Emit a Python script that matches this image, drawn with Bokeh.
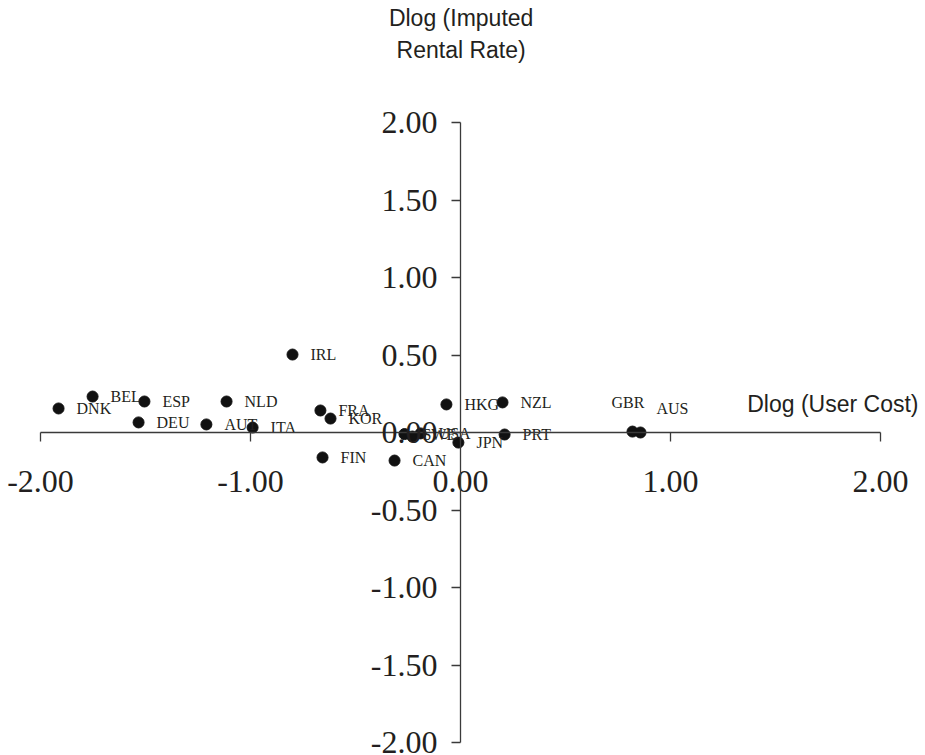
from bokeh.plotting import figure
from bokeh.models import ColumnDataSource, FixedTicker, NumeralTickFormatter, Label
from bokeh.core.properties import value
from bokeh.embed import file_html
from bokeh.resources import INLINE

# ---- data ----
countries = ["DNK", "BEL", "ESP", "NLD", "DEU", "AUT", "ITA", "IRL", "FRA", "KOR",
             "FIN", "CAN", "SWE", "", "USA", "HKG", "JPN", "NZL", "PRT", "GBR", "AUS"]
dlog_user_cost = [-1.914, -1.752, -1.505, -1.114, -1.533, -1.210, -0.990, -0.800, -0.667, -0.619,
                  -0.657, -0.314, -0.267, -0.229, -0.190, -0.067, -0.010, 0.200, 0.210, 0.819, 0.857]
dlog_rental_rate = [0.155, 0.232, 0.200, 0.200, 0.065, 0.052, 0.032, 0.503, 0.142, 0.090,
                    -0.161, -0.181, -0.010, -0.026, -0.006, 0.181, -0.065, 0.194, -0.013, 0.006, 0.000]
x_ticks = [-2.0, -1.0, 0.0, 1.0, 2.0]
y_ticks = [-2.0, -1.5, -1.0, -0.5, 0.0, 0.5, 1.0, 1.5, 2.0]

# label offsets (screen px) -- style
label_dx = [18] * len(countries)
label_dy = [0] * len(countries)
label_dx[countries.index("GBR")] = -21
label_dy[countries.index("GBR")] = -29
label_dx[countries.index("AUS")] = 16
label_dy[countries.index("AUS")] = -24

INK = "#231f20"
W, H = 925, 755
X0, SX = 460, 210   # pixel of x=0, pixels per unit
Y0, SY = 432, 155   # pixel of y=0, pixels per unit

p = figure(width=W, height=H, output_backend="svg", toolbar_location=None,
           x_range=(-X0 / SX, (W - X0) / SX),
           y_range=((Y0 - H) / SY, Y0 / SY),
           min_border=0, min_border_left=0, min_border_right=0,
           min_border_top=0, min_border_bottom=0)
p.outline_line_color = None
p.grid.visible = False

for ax, ticks in ((p.xaxis, x_ticks), (p.yaxis, y_ticks)):
    ax.fixed_location = 0
    ax.bounds = (-2, 2)
    ax.ticker = FixedTicker(ticks=ticks)
    ax.formatter = NumeralTickFormatter(format="0.00")
    ax.axis_line_color = "#3a3a3a"
    ax.axis_line_width = 1.3
    ax.major_tick_line_color = "#3a3a3a"
    ax.major_tick_line_width = 1.3
    ax.major_tick_in = 0
    ax.major_tick_out = 9
    ax.minor_tick_line_color = None
    ax.major_label_text_font = "Liberation Serif"
    ax.major_label_text_font_size = "32px"
    ax.major_label_text_color = INK
p.xaxis.major_label_standoff = 29
p.yaxis.major_label_standoff = 14

src = ColumnDataSource(dict(x=dlog_user_cost, y=dlog_rental_rate, label=countries,
                            dx=label_dx, dy=label_dy))
p.scatter("x", "y", source=src, size=11, color="#111111", line_color="#111111")
p.text("x", "y", text="label", source=src, x_offset="dx", y_offset="dy",
       text_font=value("Liberation Serif"), text_font_size="16px",
       text_color=INK, text_baseline="middle", text_align="left")

p.add_layout(Label(x=(918 - X0) / SX, y=(Y0 - 403) / SY, text="Dlog (User Cost)",
                   text_font="Liberation Sans", text_font_size="23px", text_color=INK,
                   text_align="right", text_baseline="middle"))
p.add_layout(Label(x=0.003, y=(Y0 - 17) / SY, text="Dlog (Imputed",
                   text_font="Liberation Sans", text_font_size="23px", text_color=INK,
                   text_align="center", text_baseline="middle"))
p.add_layout(Label(x=0.003, y=(Y0 - 49) / SY, text="Rental Rate)",
                   text_font="Liberation Sans", text_font_size="23px", text_color=INK,
                   text_align="center", text_baseline="middle"))

open("out.html", "w").write(file_html(p, INLINE))
